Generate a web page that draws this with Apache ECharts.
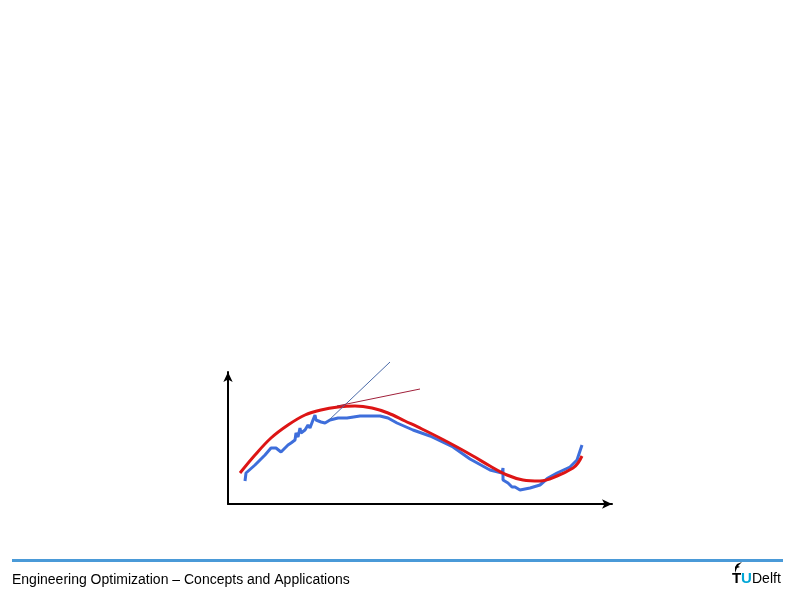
<!DOCTYPE html>
<html>
<head>
<meta charset="utf-8">
<script src="https://cdn.jsdelivr.net/npm/echarts@6/dist/echarts.min.js"></script>
<style>html,body{margin:0;padding:0;background:#fff;}#c{width:794px;height:595px;}</style>
</head>
<body>
<div id="c"></div>
<script>
// measured curve (blue) and fitted model (red), arbitrary units
const measuredX = [17,18,27,37,43,48,53,60,63,67,68,70,72,73,77,80,82,85,87,88,93,97,102,110,119,132,152,160,169,185,202,225,242,262,274,275,275,280,284,287,292,302,312,320,329,342,349,354];
const measuredY = [23,31,39,49,56,56,52,59,61,64,71,67,76,71,74,79,76,84,89,84,82,81,84,86,86,88,88,86,81,74,68,57,45,34,31,36,24,21,17,17,14,16,19,26,31,37,44,59];
const modelX = [12,27,43,60,77,93,110,127,144,160,177,194,212,229,245,262,279,295,312,329,345,350,354];
const modelY = [31,49,66,79,89,94,97,98,96,91,83,75,66,57,48,38,29,24,23,28,36,41,48];
const tangentBlueX = [100,162];
const tangentBlueY = [83,142];
const tangentRedX = [109,192];
const tangentRedY = [98,115];
const footerText = "Engineering Optimization \u2013 Concepts and Applications";

const zip = (xs, ys) => xs.map((x, i) => [x, ys[i]]);

const chart = echarts.init(document.getElementById('c'), null, {renderer: 'canvas'});
chart.setOption({
  animation: false,
  grid: {left: 228, top: 372, width: 384, height: 132},
  xAxis: {
    type: 'value', min: 0, max: 384,
    axisLine: {lineStyle: {color: '#000', width: 2}, symbol: ['none', 'arrow'], symbolSize: [7, 10]},
    axisTick: {show: false}, axisLabel: {show: false}, splitLine: {show: false}
  },
  yAxis: {
    type: 'value', min: 0, max: 132,
    axisLine: {show: true, lineStyle: {color: '#000', width: 2}, symbol: ['none', 'arrow'], symbolSize: [7, 10]},
    axisTick: {show: false}, axisLabel: {show: false}, splitLine: {show: false}
  },
  series: [
    {type: 'line', data: zip(measuredX, measuredY), showSymbol: false, clip: false,
     lineStyle: {color: '#3e6edb', width: 3}},
    {type: 'line', data: zip(modelX, modelY), showSymbol: false, smooth: 0.35, clip: false,
     lineStyle: {color: '#dd1515', width: 3}},
    {type: 'line', data: zip(tangentBlueX, tangentBlueY), showSymbol: false, clip: false,
     lineStyle: {color: '#4a6aa8', width: 1}},
    {type: 'line', data: zip(tangentRedX, tangentRedY), showSymbol: false, clip: false,
     lineStyle: {color: '#a0203a', width: 1}}
  ],
  graphic: [
    {type: 'line', shape: {x1: 12, y1: 560.5, x2: 783, y2: 560.5}, style: {stroke: '#4a9ad8', lineWidth: 3}},
    {type: 'text', x: 12, y: 573, style: {text: footerText, font: '14px "Liberation Sans", Arial, sans-serif', fill: '#000'}},
    {type: 'text', x: 732, y: 571, style: {text: 'T', font: 'bold 15px "Liberation Sans", Arial, sans-serif', fill: '#000'}},
    {type: 'text', x: 741, y: 571, style: {text: 'U', font: 'bold 15px "Liberation Sans", Arial, sans-serif', fill: '#00a6d6'}},
    {type: 'text', x: 752, y: 572, style: {text: 'Delft', font: '14px "Liberation Sans", Arial, sans-serif', fill: '#000'}},
    {type: 'polygon', shape: {points: [[735,573],[737,568],[740,567],[738,566],[742,562],[737,564],[735,567]]}, style: {fill: '#000'}}
  ]
});
</script>
</body>
</html>
